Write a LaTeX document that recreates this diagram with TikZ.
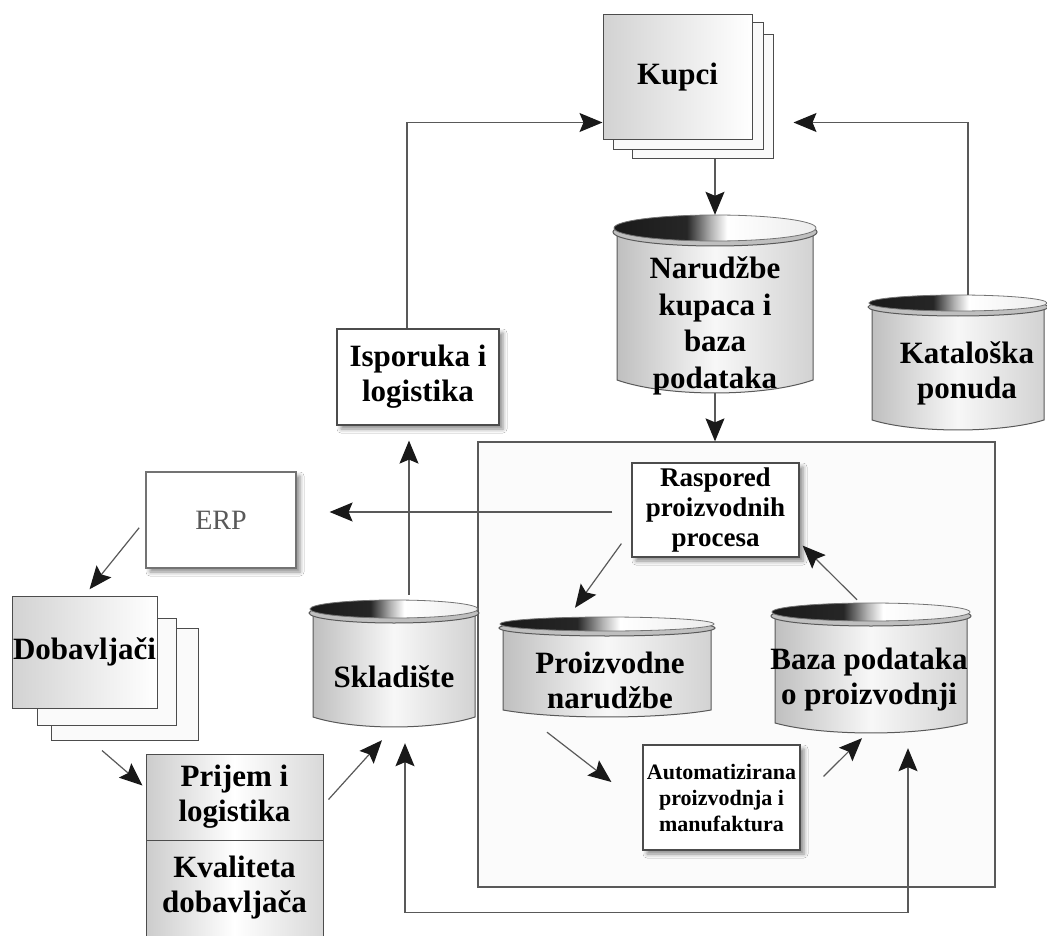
\documentclass[tikz,border=0pt]{standalone}
\usepackage{fontspec}
\setmainfont{Liberation Serif}
\usetikzlibrary{arrows.meta,shadows.blur,calc}
\pgfdeclarehorizontalshading{cyltopsh}{100bp}{color(0bp)=(black!90); color(25bp)=(black!90); color(43bp)=(black!85); color(49bp)=(gray!60); color(53bp)=(white); color(75bp)=(gray!15); color(100bp)=(gray!15)}
\newcommand\dbcyl[7]{%
  \pgfmathsetmacro\cylF{#3+#5}%
  \pgfmathsetmacro\cylR{#3+#5+4}%
  \pgfmathsetmacro\cylW{#4+4}%
  \pgfmathsetmacro\cylC{#6+#7*1.33}%
  \path[cylbody] (#2-#4,\cylR) -- (#2-#4,#6) .. controls (#2-#4/2,\cylC) and (#2+#4/2,\cylC) .. (#2+#4,#6) -- (#2+#4,\cylR) -- cycle;
  \path[cylrim] (#2,\cylR) ellipse [x radius=\cylW, y radius=#5+1];
  \path[cyltop] (#2,\cylF) ellipse [x radius=\cylW-1, y radius=#5];
  \node[inner sep=0pt, minimum width=2*\cylW, minimum height=#6+#7-#3] (#1) at (#2,{(#3+#6+#7)/2}) {};
}
\tikzset{
  cylbody/.style={draw=black!65, line width=1pt, left color=gray!50, right color=gray!35, middle color=gray!6},
  cylrim/.style={draw=black!65, line width=1pt, fill=gray!50},
  cyltop/.style={draw=black!55, line width=0.8pt, shading=cyltopsh},
  box/.style={draw=black!70, line width=1.2pt, fill=white, inner sep=0pt, align=center},
  sbox/.style={box, blur shadow={shadow xshift=4pt, shadow yshift=-4pt, shadow blur radius=4pt, shadow opacity=45}},
  stackF/.style={draw=black!70, line width=1pt, left color=gray!35, right color=white, inner sep=0pt},
  stackB/.style={draw=black!70, line width=1pt, fill=gray!4, inner sep=0pt},
  grad/.style={draw=black!70, line width=1pt, left color=gray!40, right color=gray!30, middle color=white, inner sep=0pt, align=center},
  big/.style={font=\bfseries\fontsize{31}{35}\selectfont, align=center, text=black},
  tip/.style={Stealth[length=23pt,width=19pt,inset=4pt,color=black!90]},
  arr/.style={draw=black!65, line width=1.2pt, -{Stealth[length=23pt,width=19pt,inset=4pt,color=black!90]}},
  darr/.style={draw=black!65, line width=1.2pt, {Stealth[length=23pt,width=19pt,inset=4pt,color=black!90]}-{Stealth[length=23pt,width=19pt,inset=4pt,color=black!90]}}
}
\begin{document}
\begin{tikzpicture}[x=1pt,y=-1pt]
\useasboundingbox (0,0) rectangle (1047,936);
\fill[white] (0,0) rectangle (1047,936);

% frame
\node[draw=black!65, line width=1.3pt, fill=gray!3, minimum width=517, minimum height=445, inner sep=0pt] (frame) at (736.5,664.5) {};

% Kupci stack
\node[stackB, minimum width=141, minimum height=124] (kupC) at (702.5,97) {};
\node[stackB, minimum width=150, minimum height=127] (kupB) at (688,86.5) {};
\node[stackF, big, minimum width=149, minimum height=125] (kupA) at (677.5,77.5) {Kupci};

% Dobavljaci stack
\node[stackB, minimum width=147, minimum height=112] (dobC) at (124.5,684) {};
\node[stackB, minimum width=139, minimum height=107] (dobB) at (106.5,671.5) {};
\node[stackF, big, minimum width=145, minimum height=112] (dobA) at (84.5,652) {Dobavljači};

% cylinders
\dbcyl{nar}{715}{215}{98}{13}{380}{13}
\dbcyl{kat}{958}{295}{86}{8}{420}{10}
\dbcyl{skl}{394}{600}{81}{9}{717}{10}
\dbcyl{pro}{607}{617}{104}{7}{710}{7}
\dbcyl{baz}{871}{603}{96}{9}{723}{10}

\node[big, font=\bfseries\fontsize{31}{36.5}\selectfont] (narT) at (715,326) {Narudžbe\\kupaca i\\baza\\podataka};
\node[big] (katT) at (967,373) {Kataloška\\ponuda};
\node[big] (sklT) at (394,677) {Skladište};
\node[big] (proT) at (610,680) {Proizvodne\\narudžbe};
\node[big] (bazT) at (869,680) {Baza podataka\\o proizvodnji};

% boxes
\node[sbox, big, minimum width=162, minimum height=96] (isp) at (418,377) {Isporuka i\\logistika};
\node[sbox, draw=black!55, minimum width=150, minimum height=96, font=\fontsize{28}{32}\selectfont, text=black!65] (erp) at (221,520) {ERP};
\node[sbox, font=\bfseries\fontsize{27}{30}\selectfont, minimum width=167, minimum height=94] (ras) at (715.5,510) {Raspored\\proizvodnih\\procesa};
\node[sbox, font=\bfseries\fontsize{22}{26}\selectfont, minimum width=157, minimum height=105] (aut) at (721.5,797.5) {Automatizirana\\proizvodnja i\\manufaktura};
\node[grad, big, minimum width=177, minimum height=86] (pri) at (234.5,797) {Prijem i\\logistika};
\node[grad, big, minimum width=177, minimum height=96] (kva) at (234.5,888) {Kvaliteta\\dobavljača};

% connectors
\coordinate (ispup) at ([xshift=-11pt]isp.north);
\draw[arr] (ispup) |- ([yshift=18pt]kupA.south west);
\coordinate (katup) at ([xshift=10pt]kat.north);
\draw[arr] (katup) |- ([xshift=20pt,yshift=37pt]kupC.south east);
\draw[arr] (nar.north |- kupC.south) -- (nar.north);
\draw[arr] (nar.south) -- (nar.south |- frame.north);
\coordinate (sklup) at ([xshift=15pt,yshift=5pt]skl.north);
\draw[arr, shorten >=15pt] (sklup) -- (sklup |- isp.south);
\coordinate (rasout) at ([yshift=-2pt]ras.west);
\draw[arr, shorten <=19pt, shorten >=33pt] (rasout) -- (rasout -| erp.east);
\draw[arr, shorten <=10pt, shorten >=8pt] (erp.west) -- (dobA.north);
\draw[arr] ([xshift=-22.5pt,yshift=-10pt]dobC.south) -- ([xshift=-3pt,yshift=-32pt]pri.north west);
\draw[arr] ([xshift=5pt,yshift=-46pt]pri.north east) -- ([xshift=-12pt,yshift=-13pt]skl.south);
\draw[arr] ([xshift=-10pt,yshift=14pt]ras.south west) -- ([xshift=-32pt,yshift=9pt]pro.north);
\draw[arr] ([xshift=-60pt,yshift=-15pt]pro.south) -- ([xshift=-31pt,yshift=15.5pt]aut.west);
\draw[arr] ([xshift=23pt,yshift=-32pt]aut.north east) -- ([xshift=-9pt,yshift=-5pt]baz.south);
\draw[arr] ([xshift=-14pt,yshift=3pt]baz.north) -- ([xshift=3pt,yshift=12pt]ras.south east);
\coordinate (fbL) at ([xshift=11pt,yshift=-16pt]skl.south);
\coordinate (fbR) at ([xshift=37pt,yshift=-15pt]baz.south);
\draw[darr] (fbL) -- ++(0,169) -| (fbR);
\end{tikzpicture}
\end{document}
